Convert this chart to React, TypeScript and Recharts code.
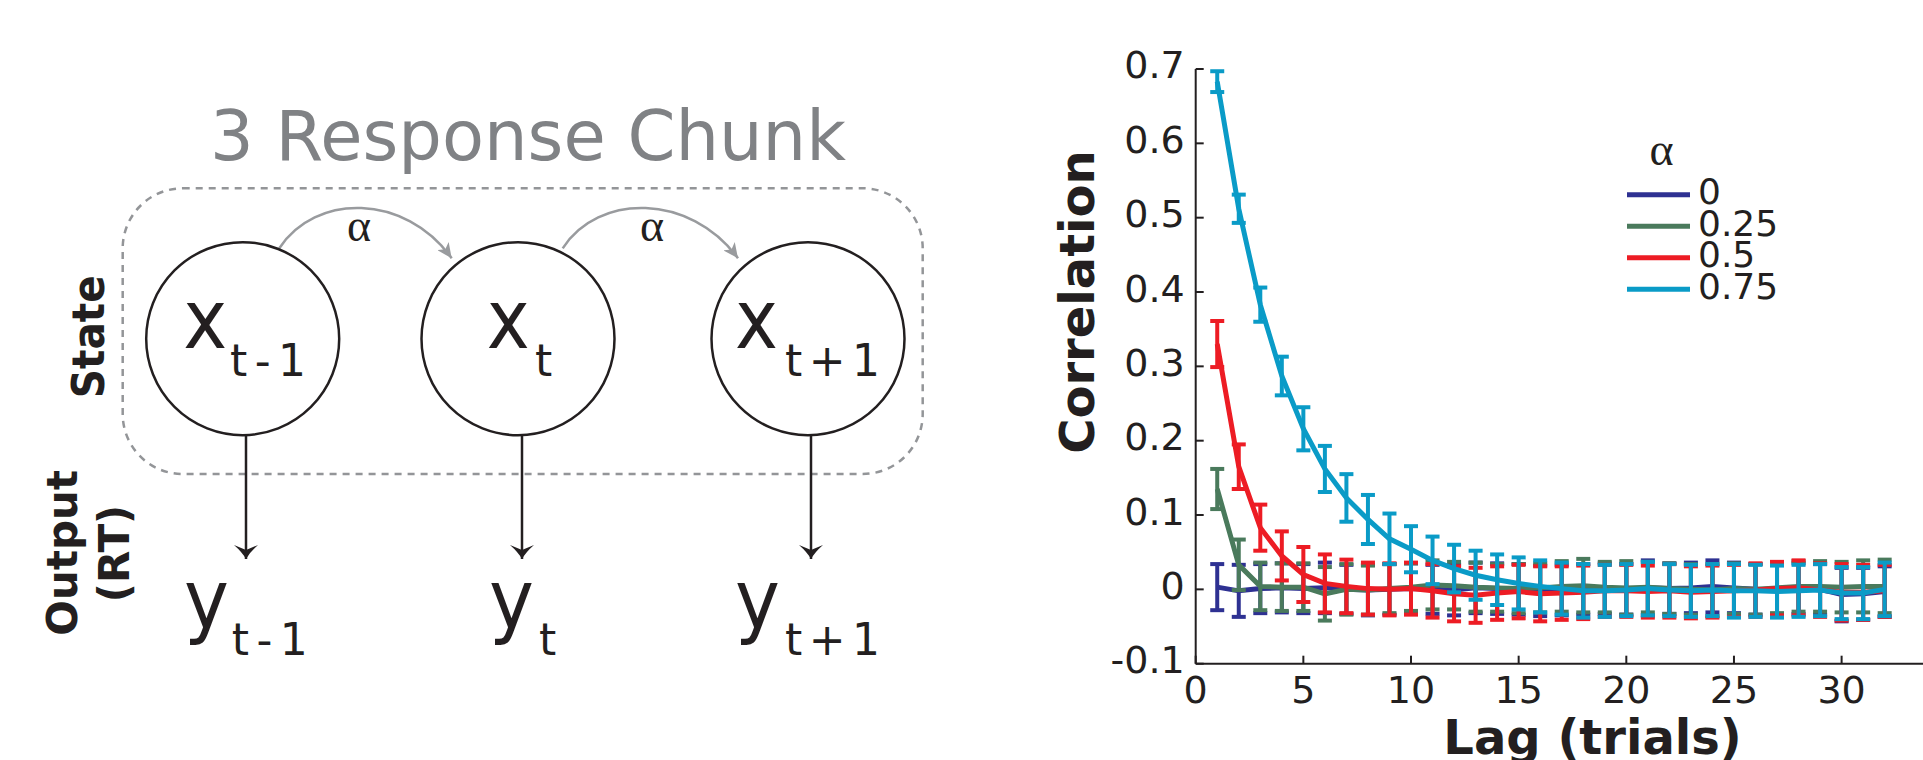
import { ErrorBar, Legend, Line, LineChart, XAxis, YAxis } from 'recharts'

// lag (trials) on the x axis
const lags = [1, 2, 3, 4, 5, 6, 7, 8, 9, 10, 11, 12, 13, 14, 15, 16, 17, 18, 19, 20, 21, 22, 23, 24, 25, 26, 27, 28, 29, 30, 31, 32]

// mean correlation per alpha
const corrAlpha0 = [0.003, -0.002, 0.001, 0.002, 0.001, 0.002, 0.0, -0.001, 0.0, 0.001, 0.0, -0.001, 0.002, 0.001, 0.0, -0.002, -0.001, 0.0, 0.001, 0.0, 0.002, 0.001, 0.002, 0.004, 0.002, 0.0, -0.001, 0.001, 0.0, -0.007, -0.006, -0.003]
const corrAlpha25 = [0.135, 0.033, 0.004, 0.003, 0.003, -0.006, 0.0, -0.001, 0.001, 0.003, 0.006, 0.005, 0.003, 0.002, 0.001, 0.002, 0.004, 0.005, 0.003, 0.002, 0.003, 0.001, 0.0, -0.001, 0.001, 0.0, 0.002, 0.004, 0.004, 0.003, 0.004, 0.004]
const corrAlpha50 = [0.33, 0.165, 0.083, 0.045, 0.02, 0.008, 0.004, 0.001, 0.0, 0.001, -0.002, -0.006, -0.008, -0.005, -0.003, -0.006, -0.005, -0.004, -0.002, -0.002, -0.003, -0.002, -0.004, -0.003, -0.002, -0.001, 0.001, 0.002, -0.001, -0.004, -0.004, -0.002]
const corrAlpha75 = [0.683, 0.512, 0.383, 0.287, 0.216, 0.162, 0.123, 0.094, 0.068, 0.054, 0.039, 0.028, 0.019, 0.013, 0.008, 0.004, 0.001, -0.002, -0.002, -0.001, 0.001, -0.001, -0.002, -0.001, -0.002, -0.002, -0.003, -0.002, -0.001, -0.005, -0.005, 0.0]

// error bar half-heights
const errAlpha0 = [0.031, 0.035, 0.033, 0.033, 0.033, 0.034, 0.033, 0.034, 0.034, 0.034, 0.033, 0.034, 0.034, 0.034, 0.034, 0.034, 0.034, 0.034, 0.034, 0.034, 0.037, 0.034, 0.034, 0.035, 0.034, 0.034, 0.035, 0.034, 0.034, 0.036, 0.035, 0.034]
const errAlpha25 = [0.027, 0.034, 0.032, 0.032, 0.032, 0.036, 0.034, 0.033, 0.033, 0.032, 0.033, 0.032, 0.033, 0.032, 0.033, 0.033, 0.034, 0.036, 0.034, 0.036, 0.034, 0.034, 0.034, 0.035, 0.034, 0.034, 0.034, 0.034, 0.034, 0.034, 0.035, 0.036]
const errAlpha50 = [0.031, 0.03, 0.031, 0.033, 0.037, 0.039, 0.036, 0.035, 0.035, 0.035, 0.036, 0.037, 0.037, 0.036, 0.036, 0.037, 0.036, 0.036, 0.035, 0.035, 0.035, 0.036, 0.035, 0.035, 0.035, 0.036, 0.036, 0.037, 0.036, 0.038, 0.037, 0.035]
const errAlpha75 = [0.014, 0.019, 0.023, 0.026, 0.029, 0.031, 0.032, 0.033, 0.034, 0.031, 0.032, 0.032, 0.033, 0.034, 0.035, 0.035, 0.035, 0.036, 0.035, 0.035, 0.036, 0.035, 0.035, 0.035, 0.036, 0.035, 0.035, 0.035, 0.035, 0.035, 0.035, 0.036]

const xTicks = [0, 5, 10, 15, 20, 25, 30]
const yTicks = [-0.1, 0, 0.1, 0.2, 0.3, 0.4, 0.5, 0.6, 0.7]

const series = [
  { key: 'a0', err: 'e0', name: '0', color: '#2e3192' },
  { key: 'a25', err: 'e25', name: '0.25', color: '#4a7a5c' },
  { key: 'a50', err: 'e50', name: '0.5', color: '#ed1c24' },
  { key: 'a75', err: 'e75', name: '0.75', color: '#0a9bc7' },
]

const rows = lags.map((lag, i) => ({
  lag,
  a0: corrAlpha0[i],
  e0: errAlpha0[i],
  a25: corrAlpha25[i],
  e25: errAlpha25[i],
  a50: corrAlpha50[i],
  e50: errAlpha50[i],
  a75: corrAlpha75[i],
  e75: errAlpha75[i],
}))

const INK = '#231f20'
const FONT = "'DejaVu Sans', Verdana, sans-serif"

// legend box sits at page (1620, 100)
function AlphaLegend(props: any) {
  const items = props.payload ?? []
  return (
    <svg width={170} height={220} style={{ overflow: 'visible' }}>
      <text x={41.5} y={65} textAnchor="middle" fontFamily="'Liberation Serif', serif" fontSize={46} fill={INK}>
        α
      </text>
      {items.map((it: any, i: number) => {
        const y = 94.7 + i * 31.5
        return (
          <g key={it.value}>
            <line x1={7} x2={70} y1={y} y2={y} stroke={it.color} strokeWidth={5} />
            <text x={78} y={y + 9.6} fontFamily={FONT} fontSize={36} fill={INK}>
              {it.value}
            </text>
          </g>
        )
      })}
    </svg>
  )
}

// left panel: graphical model of the 3 response chunk
const nodes = [
  { cx: 242.7, stem: 246, xLeft: 183.3, xw: 44, sub: 't-1', subX: 230, subW: 76, yLeft: 184, ySubX: 231.7 },
  { cx: 518, stem: 522, xLeft: 486.7, xw: 43, sub: 't', subX: 535, subW: 18, yLeft: 489, ySubX: 539 },
  { cx: 808, stem: 811, xLeft: 735, xw: 43, sub: 't+1', subX: 785, subW: 95, yLeft: 735, ySubX: 785 },
]

function ChunkDiagram() {
  const cy = 338.7
  const r = 96.5
  return (
    <svg width={960} height={760} style={{ position: 'absolute', left: 0, top: 0 }}>
      <defs>
        <marker id="grayHead" markerUnits="userSpaceOnUse" markerWidth={18} markerHeight={14} refX={15} refY={7} orient="auto">
          <path d="M0,0 L15,7 L0,14 L4,7 Z" fill="#999b9e" />
        </marker>
        <marker id="blackHead" markerUnits="userSpaceOnUse" markerWidth={16} markerHeight={26} refX={14} refY={12} orient="auto">
          <path d="M0,0 Q7,8 14,12 Q7,16 0,24 L5,12 Z" fill={INK} />
        </marker>
      </defs>
      <text x={210} y={160} fontFamily={FONT} fontSize={69} fill="#808285" textLength={636} lengthAdjust="spacingAndGlyphs">
        3 Response Chunk
      </text>
      <rect x={122.7} y={188.3} width={800} height={285.7} rx={60} ry={60} fill="none" stroke="#939598" strokeWidth={2.5} strokeDasharray="7 6" />
      <path d="M279.3,248.3 C315,193 405,193 451.7,258.3" fill="none" stroke="#999b9e" strokeWidth={2.5} markerEnd="url(#grayHead)" />
      <path d="M562.7,248.3 C598,193 690,193 738,258.3" fill="none" stroke="#999b9e" strokeWidth={2.5} markerEnd="url(#grayHead)" />
      <text x={359} y={240.7} textAnchor="middle" fontFamily="'Liberation Serif', serif" fontSize={46} fill={INK}>α</text>
      <text x={652} y={240.7} textAnchor="middle" fontFamily="'Liberation Serif', serif" fontSize={46} fill={INK}>α</text>
      <text x={104} y={336.7} transform="rotate(-90 104 336.7)" textAnchor="middle" fontFamily={FONT} fontWeight="bold" fontSize={44} fill={INK} textLength={123} lengthAdjust="spacingAndGlyphs">
        State
      </text>
      <text x={77.3} y={552.8} transform="rotate(-90 77.3 552.8)" textAnchor="middle" fontFamily={FONT} fontWeight="bold" fontSize={42} fill={INK}>
        Output
      </text>
      <text x={129.3} y={553.5} transform="rotate(-90 129.3 553.5)" textAnchor="middle" fontFamily={FONT} fontWeight="bold" fontSize={42} fill={INK}>
        (RT)
      </text>
      {nodes.map((n) => (
        <g key={n.sub}>
          <circle cx={n.cx} cy={cy} r={r} fill="none" stroke={INK} strokeWidth={2.5} />
          <line x1={n.stem} x2={n.stem} y1={cy + r} y2={559} stroke={INK} strokeWidth={2.5} markerEnd="url(#blackHead)" />
          <text x={n.xLeft} y={348.3} fontFamily={FONT} fontSize={82} fill={INK} textLength={n.xw} lengthAdjust="spacingAndGlyphs">
            x
          </text>
          <text x={n.subX} y={375.7} fontFamily={FONT} fontSize={44} fill={INK} textLength={n.subW} lengthAdjust="spacing">
            {n.sub}
          </text>
          <text x={n.yLeft} y={628} fontFamily={FONT} fontSize={82} fill={INK} textLength={45} lengthAdjust="spacingAndGlyphs">
            y
          </text>
          <text x={n.ySubX} y={655} fontFamily={FONT} fontSize={44} fill={INK} textLength={n.subW} lengthAdjust="spacing">
            {n.sub}
          </text>
        </g>
      ))}
    </svg>
  )
}

export default function App() {
  return (
    <div style={{ position: 'absolute', left: 0, top: 0, width: 1923, height: 760, overflow: 'hidden', background: '#fff', fontFamily: FONT }}>
      <ChunkDiagram />
      <div style={{ position: 'absolute', left: 960, top: 0 }}>
        <LineChart width={963} height={760} data={rows} margin={{ top: 69, right: 0, bottom: 36.3, left: 175.7 }}>
          <XAxis
            dataKey="lag"
            type="number"
            domain={[0, 33.78]}
            allowDataOverflow
            ticks={xTicks}
            height={60}
            tickSize={-8}
            tickMargin={20}
            stroke={INK}
            strokeWidth={2}
            tick={{ fill: INK, fontSize: 38, fontFamily: FONT }}
            label={{ value: 'Lag (trials)', position: 'bottom', offset: -3.7, dx: 33.2, style: { fontFamily: FONT, fontWeight: 'bold', fontSize: 48, fill: INK } }}
          />
          <YAxis
            type="number"
            domain={[-0.1, 0.7]}
            ticks={yTicks}
            width={60}
            tickSize={-8}
            tickMargin={19}
            stroke={INK}
            strokeWidth={2}
            tickFormatter={(v: number) => (v === 0 ? '0' : v.toFixed(1))}
            tick={{ fill: INK, fontSize: 38, fontFamily: FONT, dy: -4 }}
            label={{ value: 'Correlation', position: 'center', angle: -90, dx: -88.7, dy: -64.3, style: { fontFamily: FONT, fontWeight: 'bold', fontSize: 48, fill: INK } }}
          />
          <Legend layout="horizontal" verticalAlign="middle" align="center" content={AlphaLegend} wrapperStyle={{ left: 660, top: 100, width: 170, height: 220 }} />
          {series.map((s) => (
            <Line key={s.key} type="linear" dataKey={s.key} name={s.name} stroke={s.color} strokeWidth={5} dot={false} isAnimationActive={false}>
              <ErrorBar dataKey={s.err} direction="y" width={7} strokeWidth={4} stroke={s.color} />
            </Line>
          ))}
        </LineChart>
      </div>
    </div>
  )
}
